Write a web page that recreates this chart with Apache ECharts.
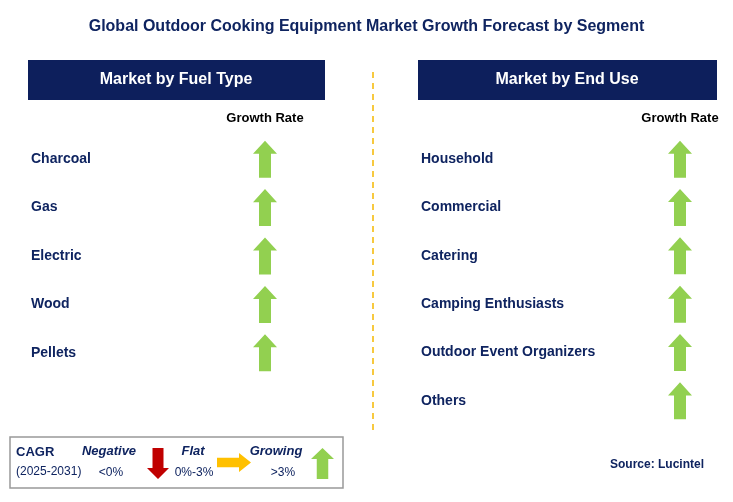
<!DOCTYPE html>
<html><head><meta charset="utf-8">
<script src="https://cdn.jsdelivr.net/npm/echarts@6/dist/echarts.min.js"></script>
<style>html,body{margin:0;padding:0;background:#fff}#c{width:733px;height:502px}</style>
</head><body><div id="c"></div>
<script>
const fuelTypes = ['Charcoal','Gas','Electric','Wood','Pellets'];
const fuelStatus = ['Growing','Growing','Growing','Growing','Growing'];
const endUses = ['Household','Commercial','Catering','Camping Enthusiasts','Outdoor Event Organizers','Others'];
const endUseStatus = ['Growing','Growing','Growing','Growing','Growing','Growing'];
const xCats = ['', 'Growth Rate'];

const NAVY = '#0f2460';
const UP = 'path://M12,0 L24,12 L18,12 L18,34 L6,34 L6,12 L0,12 Z';
const DOWN = 'path://M6,0 L18,0 L18,22 L24,22 L12,34 L0,22 L6,22 Z';
const RIGHT = 'path://M0,6 L22,6 L22,0 L34,12 L22,24 L22,18 L0,18 Z';
const statusStyle = {Growing:{symbol:UP,color:'#92d050'},Flat:{symbol:RIGHT,color:'#ffc000'},Negative:{symbol:DOWN,color:'#c00000'}};

function poly(pts, x, y, sx, sy, fill){
  return {type:'polygon',shape:{points:pts.map(p=>[x+p[0]*sx,y+p[1]*sy])},style:{fill}};
}
const UPP=[[12,0],[24,12],[18,12],[18,34],[6,34],[6,12],[0,12]];
const DNP=[[6,0],[18,0],[18,22],[24,22],[12,34],[0,22],[6,22]];
const RTP=[[0,6],[22,6],[22,0],[34,12],[22,24],[22,18],[0,18]];

function axes(idx, cats){
  return {
    x:{type:'category',gridIndex:idx,data:xCats,boundaryGap:false,position:'top',
       axisLine:{show:false},axisTick:{show:false},splitLine:{show:false},
       axisLabel:{color:'#000',fontSize:13,fontWeight:'bold',margin:10,fontFamily:'Arial'}},
    y:{type:'category',gridIndex:idx,data:cats,inverse:true,
       axisLine:{show:false},axisTick:{show:false},splitLine:{show:false},
       axisLabel:{inside:true,align:'left',margin:0,color:NAVY,fontSize:14,fontWeight:'bold',fontFamily:'Arial'}}
  };
}
const a0 = axes(0, fuelTypes), a1 = axes(1, endUses);
function ser(idx, cats, st){
  return {type:'scatter',xAxisIndex:idx,yAxisIndex:idx,symbolSize:[24,37],
    data:cats.map((c,i)=>({value:['Growth Rate',c],symbol:statusStyle[st[i]].symbol,
      itemStyle:{color:statusStyle[st[i]].color,opacity:1}}))};
}
const chart = echarts.init(document.getElementById('c'));
chart.setOption({
  animation:false,
  title:{text:'Global Outdoor Cooking Equipment Market Growth Forecast by Segment',left:'center',top:14,
    textStyle:{color:NAVY,fontSize:16,fontWeight:'bold',fontFamily:'Arial'}},
  grid:[{left:31,right:468,top:135,bottom:125},{left:421,right:53,top:135,bottom:77}],
  xAxis:[a0.x,a1.x], yAxis:[a0.y,a1.y],
  series:[ser(0,fuelTypes,fuelStatus),ser(1,endUses,endUseStatus)],
  graphic:[
    {type:'rect',shape:{x:28,y:60,width:297,height:40},style:{fill:'#0d1f5c'}},
    {type:'text',x:176,y:80,style:{text:'Market by Fuel Type',fill:'#fff',font:'bold 16px Arial',align:'center',verticalAlign:'middle'}},
    {type:'rect',shape:{x:418,y:60,width:299,height:40},style:{fill:'#0d1f5c'}},
    {type:'text',x:567,y:80,style:{text:'Market by End Use',fill:'#fff',font:'bold 16px Arial',align:'center',verticalAlign:'middle'}},
    {type:'line',shape:{x1:373,y1:72,x2:373,y2:432},style:{stroke:'#f5b800',lineWidth:1.5,lineDash:[6,5]}},
    {type:'rect',shape:{x:10,y:437,width:333,height:51},style:{fill:'#fff',stroke:'#999',lineWidth:1.5}},
    {type:'text',x:16,y:452,style:{text:'CAGR',fill:NAVY,font:'bold 13px Arial',verticalAlign:'middle'}},
    {type:'text',x:16,y:472,style:{text:'(2025-2031)',fill:NAVY,font:'12px Arial',verticalAlign:'middle'}},
    {type:'text',x:109,y:451,style:{text:'Negative',fill:NAVY,font:'italic bold 13px Arial',align:'center',verticalAlign:'middle'}},
    {type:'text',x:111,y:473,style:{text:'<0%',fill:NAVY,font:'12px Arial',align:'center',verticalAlign:'middle'}},
    poly(DNP,147,448,22/24,31/34,'#c00000'),
    {type:'text',x:193,y:451,style:{text:'Flat',fill:NAVY,font:'italic bold 13px Arial',align:'center',verticalAlign:'middle'}},
    {type:'text',x:194,y:473,style:{text:'0%-3%',fill:NAVY,font:'12px Arial',align:'center',verticalAlign:'middle'}},
    poly(RTP,217,453,1,19/24,'#ffc000'),
    {type:'text',x:276,y:451,style:{text:'Growing',fill:NAVY,font:'italic bold 13px Arial',align:'center',verticalAlign:'middle'}},
    {type:'text',x:283,y:473,style:{text:'>3%',fill:NAVY,font:'12px Arial',align:'center',verticalAlign:'middle'}},
    poly(UPP,311,448,23/24,31/34,'#92d050'),
    {type:'text',x:704,y:465,style:{text:'Source: Lucintel',fill:NAVY,font:'bold 12px Arial',align:'right',verticalAlign:'middle'}}
  ]
});
</script></body></html>
